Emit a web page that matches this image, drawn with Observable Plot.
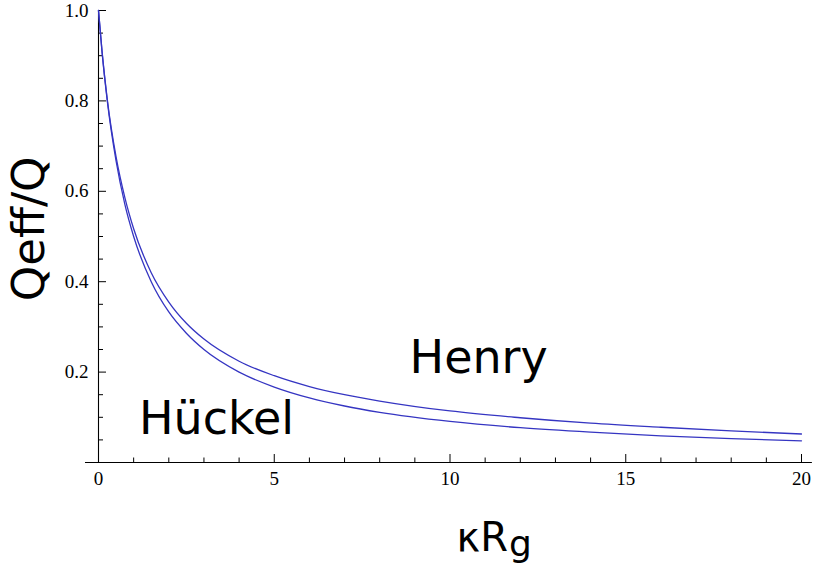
<!DOCTYPE html>
<html><head><meta charset="utf-8">
<script src="https://cdn.jsdelivr.net/npm/d3@7"></script>
<script src="https://cdn.jsdelivr.net/npm/@observablehq/plot@0.6"></script>
<style>body{margin:0;background:#fff}</style>
</head><body><div id="chart"></div>
<script>
// κRg sample positions
const kappaRg = [0, 0.1, 0.25, 0.5, 0.75, 1, 1.5, 2, 2.5, 3, 4, 5, 6, 7, 8, 10, 12, 14, 16, 18, 20];
// Qeff/Q, lower curve (Hückel)
const huckel = [1, 0.909, 0.8, 0.667, 0.571, 0.5, 0.4, 0.333, 0.286, 0.25, 0.2, 0.167, 0.143, 0.125, 0.111, 0.091, 0.077, 0.067, 0.059, 0.053, 0.048];
// Qeff/Q, upper curve (Henry)
const henry = [1, 0.910, 0.803, 0.676, 0.586, 0.517, 0.420, 0.355, 0.308, 0.273, 0.224, 0.192, 0.168, 0.150, 0.136, 0.114, 0.099, 0.087, 0.078, 0.070, 0.063];
const seriesNames = ["Hückel", "Henry"];
const xMajor = [0, 5, 10, 15, 20];
const xMinor = [1,2,3,4,6,7,8,9,11,12,13,14,16,17,18,19];
const yMajor = [0.2, 0.4, 0.6, 0.8, 1.0];
const yMinor = [0.05,0.1,0.15,0.25,0.3,0.35,0.45,0.5,0.55,0.65,0.7,0.75,0.85,0.9,0.95];
const yTitle = "Qeff/Q";
const xTitleMain = "κR";
const xTitleSub = "g";

const rows = [];
kappaRg.forEach((x, i) => {
  rows.push({x, v: huckel[i], s: seriesNames[0]});
});
kappaRg.forEach((x, i) => {
  rows.push({x, v: henry[i], s: seriesNames[1]});
});

const blue = "#3535c2";
const serif = "Liberation Serif";

const chart = Plot.plot({
  width: 816,
  height: 565,
  marginLeft: 98,
  marginRight: 15,
  marginTop: 10,
  marginBottom: 103,
  x: {domain: [0, 20], axis: null},
  y: {domain: [0, 1], axis: null},
  style: {fontFamily: "DejaVu Sans", background: "white", color: "black"},
  marks: [
    // axes lines
    Plot.ruleY([0], {x1: -0.37, x2: 20.31, stroke: "black", strokeWidth: 1.1}),
    Plot.ruleX([0], {y1: 0, y2: 1, stroke: "black", strokeWidth: 1.1}),
    // inward ticks
    Plot.ruleX(xMajor.filter(d => d !== 0), {x: d => d, y1: 0, y2: 0, insetTop: -8, stroke: "black"}),
    Plot.ruleX(xMinor, {x: d => d, y1: 0, y2: 0, insetTop: -4.5, stroke: "black"}),
    Plot.ruleY(yMajor, {y: d => d, x1: 0, x2: 0, insetRight: -8, stroke: "black"}),
    Plot.ruleY(yMinor, {y: d => d, x1: 0, x2: 0, insetRight: -5, stroke: "black"}),
    // tick labels
    Plot.text(xMajor, {x: d => d, y: 0, text: d => String(d), textAnchor: "middle", lineAnchor: "top", dy: 9, fontFamily: serif, fontSize: 19, fill: "black"}),
    Plot.text(yMajor, {x: 0, y: d => d, text: d => d3.format(".1f")(d), textAnchor: "end", lineAnchor: "middle", dx: -10, fontFamily: serif, fontSize: 19, fill: "black"}),
    // curves
    Plot.line(rows, {x: "x", y: "v", z: "s", stroke: blue, strokeWidth: 1.3, curve: "monotone-x"}),
    // curve labels
    Plot.text([seriesNames[1]], {x: 8.85, y: 0.199, text: d => d, textAnchor: "start", lineAnchor: "bottom", fontSize: 46, fill: "black"}),
    Plot.text([seriesNames[0]], {x: 1.15, y: 0.062, text: d => d, textAnchor: "start", lineAnchor: "bottom", fontSize: 46, fill: "black"}),
    // axis titles
    Plot.text([yTitle], {frameAnchor: "left", y: 0.517, text: d => d, rotate: -90, dx: -55, textAnchor: "middle", lineAnchor: "bottom", fontSize: 45, fill: "black"}),
    Plot.text([xTitleMain], {x: 11.65, frameAnchor: "bottom", text: d => d, textAnchor: "end", lineAnchor: "bottom", dy: 88, fontSize: 40, fill: "black"}),
    Plot.text([xTitleSub], {x: 11.65, frameAnchor: "bottom", text: d => d, textAnchor: "start", lineAnchor: "bottom", dy: 93, dx: 1, fontSize: 36, fill: "black"})
  ]
});
document.getElementById("chart").appendChild(chart);
</script>
</body></html>
